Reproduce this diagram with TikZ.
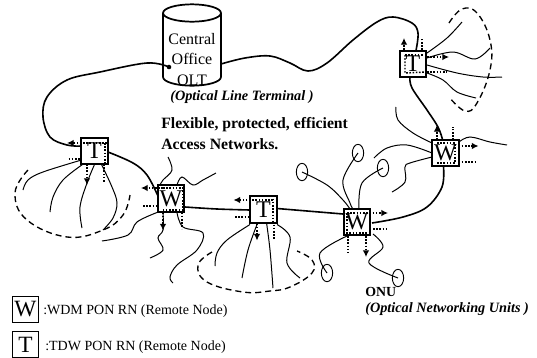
\documentclass[tikz,border=0pt]{standalone}
\usepackage{fontspec}
\setmainfont{Liberation Serif}
\usetikzlibrary{calc,arrows.meta,shapes.geometric}
\tikzset{
  rn/.style={draw,line width=1.3pt,minimum size=20pt,inner sep=0pt,font=\fontsize{18}{18}\selectfont},
  legendbox/.style={draw,line width=0.9pt,minimum size=20pt,inner sep=0pt,font=\fontsize{17.5}{18}\selectfont},
  onu/.style={draw,ellipse,line width=0.7pt,inner sep=0pt,minimum width=8.5pt,minimum height=13pt},
  main/.style={line width=1.2pt},
  fib/.style={line width=0.75pt},
  ring/.style={line width=1pt,dash pattern=on 4.5pt off 3pt},
  dot/.style={line width=1.1pt,dash pattern=on 1.2pt off 1.2pt},
  dotarrow/.style={dot,-{Latex[length=5pt,width=5pt,sep=0pt]}},
  legend/.style={anchor=west,inner sep=0pt,font=\fontsize{10.5}{10}\selectfont},
  boldlab/.style={anchor=west,inner sep=0pt,font=\fontsize{11.8}{10}\selectfont\bfseries},
  itlab/.style={anchor=west,inner sep=0pt,font=\fontsize{10.7}{10}\selectfont\bfseries\itshape}
}
\newcommand\curve[2][fib]{\draw[#1] plot[smooth,tension=0.6] coordinates {#2};}
\begin{document}
\begin{tikzpicture}[x=0.75pt,y=-0.75pt]
\useasboundingbox (0,0) rectangle (537,358);
% central office
\coordinate (co) at (192,45);
\draw[line width=1.3pt] (163,13) arc[x radius=21.75pt,y radius=6.5pt,start angle=180,end angle=0]
  arc[x radius=21.75pt,y radius=6.5pt,start angle=0,end angle=-180];
\draw[line width=1.3pt] (163,13) -- (163,77) arc[x radius=21.75pt,y radius=6.5pt,start angle=180,end angle=360] -- (221,13);
\node[inner sep=0pt,align=center,font=\fontsize{12}{15.3}\selectfont] (colab) at (192,59.5) {Central\\Office\\OLT};
\coordinate (codot) at (169,67);
\fill (codot) circle (1.7pt);
\node[itlab] (oltlab) at (170,97) {(Optical Line Terminal )};
\node[boldlab] (fl1) at (161,125) {Flexible, protected, efficient};
\node[boldlab] (fl2) at (161,144) {Access Networks.};
% remote nodes
\node[rn] (t1) at (94.5,151) {T};
\node[rn] (w1) at (171,198.5) {W};
\node[rn] (t2) at (263.5,209.5) {T};
\node[rn] (w2) at (357,222) {W};
\node[rn] (w3) at (445.5,153) {W};
\node[rn] (t3) at (413,64) {T};
% ONUs
\node[onu] (oa) at (302,172) {};
\node[onu] (ob) at (358,153) {};
\node[onu] (oc) at (383,168) {};
\node[onu] (od) at (327,273) {};
\node[onu] (oe) at (398,278) {};
\node[anchor=west,inner sep=0pt,font=\fontsize{10.4}{10}\selectfont\bfseries] (onulab) at (365,292) {ONU};
\node[itlab] (onulong) at (365,309) {(Optical Networking Units )};
% legend
\node[legendbox] (lw) at (25.5,309.5) {W};
\node[legendbox] (lt) at (25.5,344.5) {T};
\node[legend] (lwt) at (43,311) {:WDM PON RN (Remote Node)};
\node[legend] (ltt) at (45,347) {:TDW PON RN (Remote Node)};
% main fibres
\curve[main]{(codot) (147,63) (100,72) (67,80) (47,97) (43,117) (50,137) (67,145) ($(t1)+(-13.5,-5)$)}
\curve[main]{($(co)+(29,19)$) (245,58) (270,56) (290,63) (308,71) (327,63) (353,40) (377,22) (393,17) (412,23) (418,33) ($(t3)+(3,-13.5)$)}
\curve[main]{($(t3)+(-3,13.5)$) (412,88) (427,110) (438,127) ($(w3)+(-3,-13.5)$)}
\curve[main]{($(w3)+(-2,13.5)$) (442,187) (427,207) (403,217) ($(w2)+(15,1)$)}
\curve[main]{($(t2)+(13.5,-1)$) ($(w2)+(-14,-8)$)}
\curve[main]{($(w1)+(14,8.5)$) (217,209) ($(t2)+(-13.5,0.5)$)}
\curve[main]{($(t1)+(13.5,1)$) (133,163) (147,175) ($(w1)+(-13.5,-3.5)$)}
% T1 branches
\coordinate (e1) at (23,190); \coordinate (e2) at (50,212); \coordinate (e3) at (82,228); \coordinate (e4) at (103,230);
\curve{($(t1)+(-13,9)$) (43,172) (28,180) (e1)}
\curve{($(t1)+(-12,13.5)$) (63,180) (53,197) (e2)}
\curve{($(t1)+(0,13.5)$) (87,183) (80,207) (e3)}
\curve{($(t1)+(7,13.5)$) (112,187) (117,203) (113,218) (e4)}
\draw[ring] plot[smooth,tension=0.7] coordinates {(28,170) (15,193) (27,220) (67,237) (103,230) (123,215) (130,195)};
% W1 branches
\coordinate (e5) at (102,241); \coordinate (e6) at (168,157); \coordinate (e7) at (216,173); \coordinate (e8) at (150,258); \coordinate (e9) at (173,283);
\curve{($(w1)+(-14,14)$) (137,222) (128,235) (e5)}
\curve{($(w1)+(-11,-13.5)$) (163,180) (172,170) (e6)}
\curve{($(w1)+(6,-13.5)$) (182,177) (193,185) (203,180) (e7)}
\curve{($(w1)+(-8,14)$) (163,230) (158,238) (163,250) (e8)}
\curve{($(w1)+(6,14)$) (183,227) (203,233) (197,250) (177,265) (170,277) (e9)}
% T2 branches
\coordinate (e10) at (215,266); \coordinate (e11) at (242,278); \coordinate (e12) at (273,288); \coordinate (e13) at (300,278);
\curve{($(t2)+(-13.5,15)$) (227,240) (217,253) (e10)}
\curve{($(t2)+(-6.5,15)$) (248,250) (e11)}
\curve{($(t2)+(3,13)$) (270,250) (e12)}
\curve{($(t2)+(13.5,15)$) (290,237) (287,263) (e13)}
\draw[ring] plot[smooth,tension=0.7] coordinates {(212,252) (198,265) (207,282) (243,292) (270,291) (290,287) (312,273) (312,260) (297,251)};
% W2 to ONUs
\curve{(oa) (327,185) (343,200) ($(w2)+(-7,-13)$)}
\curve{(ob) (343,180) (350,203) ($(w2)+(-4,-13)$)}
\curve{(oc) (362,183) ($(w2)+(2,-13)$)}
\curve{(od) (320,253) ($(w2)+(-10,14)$)}
\curve{($(w2)+(16,12)$) (383,247) (369,263) (oe)}
% W3 branches
\coordinate (e14) at (396,107); \coordinate (e15) at (374,158); \coordinate (e16) at (392,192); \coordinate (e17) at (507,145);
\curve{($(w3)+(-13.5,-10)$) (413,133) (398,120) (e14)}
\curve{($(w3)+(-13.5,0)$) (407,145) (387,148) (e15)}
\curve{($(w3)+(-13.5,4)$) (410,163) (405,167) (405,182) (e16)}
\curve{($(w3)+(13.5,-11)$) (470,137) (490,142) (e17)}
% T3 branches
\coordinate (e18) at (462,22); \coordinate (e19) at (490,48); \coordinate (e20) at (502,77); \coordinate (e21) at (476,98);
\curve{($(t3)+(14,-11)$) (447,38) (e18)}
\curve{($(t3)+(14,-6)$) (453,52) (475,59) (e19)}
\curve{($(t3)+(14,1)$) (457,73) (483,77) (e20)}
\curve{($(t3)+(14,9)$) (443,80) (457,92) (e21)}
\draw[ring] plot[smooth,tension=0.7] coordinates {(449,23) (462,9) (477,13) (490,40) (490,70) (477,103) (465,111) (449,97)};
% dotted: T1
\draw[dotarrow] ($(t1)+(12.5,-8)$) -- ($(t1)+(-27.5,-8)$);
\draw[dot] ($(t1)+(10.5,-8)$) -- ($(t1)+(10.5,12)$);
\draw[dot] ($(t1)+(-26,8)$) -- ($(t1)+(-13,8)$);
\draw[dotarrow] ($(t1)+(-7.5,13)$) -- ($(t1)+(-7.5,34)$);
\draw[dot] ($(t1)+(9.5,13)$) -- ($(t1)+(9.5,31)$);
% dotted: W1
\draw[dotarrow] ($(w1)+(-8,-10.5)$) -- ($(w1)+(-30,-10.5)$);
\draw[dot] ($(w1)+(-28,7.5)$) -- ($(w1)+(-14,7.5)$);
\draw[dot] ($(w1)+(-8,-10.5)$) -- ($(w1)+(12,-10.5)$) -- ($(w1)+(12,11.5)$) -- ($(w1)+(-8,11.5)$);
\draw[dotarrow] ($(w1)+(-8,14)$) -- ($(w1)+(-8,32)$);
\draw[dot] ($(w1)+(11,14)$) -- ($(w1)+(11,30)$);
% dotted: T2
\draw[dotarrow] ($(t2)+(9.5,-9.5)$) -- ($(t2)+(-30,-9.5)$);
\draw[dot] ($(t2)+(9.5,-11)$) -- ($(t2)+(9.5,12)$);
\draw[dot] ($(t2)+(-28.5,7.5)$) -- ($(t2)+(-13,7.5)$);
\draw[dot] ($(t2)+(10.5,15)$) -- ($(t2)+(10.5,30)$);
\draw[dotarrow] ($(t2)+(-6.5,14)$) -- ($(t2)+(-6.5,31)$);
% dotted: W2
\draw[dotarrow] ($(w2)+(-10,-9)$) -- ($(w2)+(31,-9)$);
\draw[dot] ($(w2)+(-10,-9)$) -- ($(w2)+(-10,11)$) -- ($(w2)+(12,11)$);
\draw[dot] ($(w2)+(-9,14)$) -- ($(w2)+(-9,31)$);
\draw[dotarrow] ($(w2)+(9,14)$) -- ($(w2)+(9,35)$);
\draw[dot] ($(w2)+(16,7)$) -- ($(w2)+(30,7)$);
% dotted: W3
\draw[dotarrow] ($(w3)+(-8.5,-13)$) -- ($(w3)+(-8.5,-28)$);
\draw[dot] ($(w3)+(7.5,-13)$) -- ($(w3)+(7.5,-26)$);
\draw[dotarrow] ($(w3)+(13,-7)$) -- ($(w3)+(33,-7)$);
\draw[dot] ($(w3)+(13,9)$) -- ($(w3)+(32,9)$);
\draw[dot] ($(w3)+(-8.5,-10)$) -- ($(w3)+(9.5,-10)$) -- ($(w3)+(9.5,10)$) -- ($(w3)+(-8.5,10)$);
% dotted: T3
\draw[dotarrow] ($(t3)+(-9,-14)$) -- ($(t3)+(-9,-26)$);
\draw[dot] ($(t3)+(9,-14)$) -- ($(t3)+(9,-26)$);
\draw[dotarrow] ($(t3)+(14,-7)$) -- ($(t3)+(36,-7)$);
\draw[dot] ($(t3)+(14,8)$) -- ($(t3)+(34,8)$);
\draw[dot] ($(t3)+(-8,-9)$) -- ($(t3)+(11,-9)$);
\draw[dot] ($(t3)+(-8,-9)$) -- ($(t3)+(-8,9)$) -- ($(t3)+(13,8)$);
\end{tikzpicture}
\end{document}
